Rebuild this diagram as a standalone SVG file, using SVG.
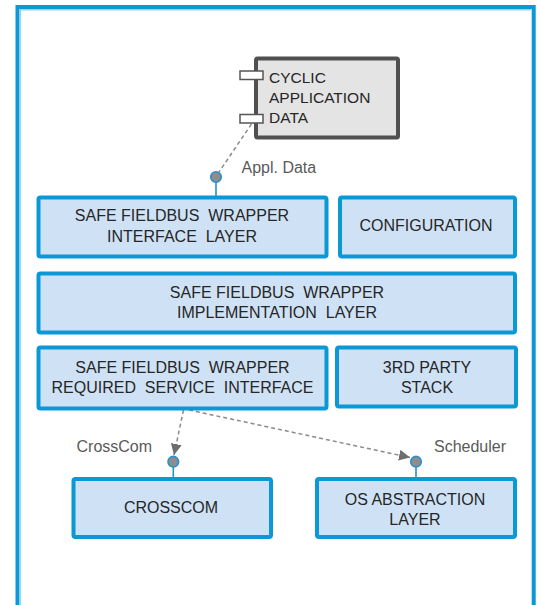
<svg xmlns="http://www.w3.org/2000/svg" width="541" height="605" viewBox="0 0 541 605">
<defs>
<style>
.box{fill:#cfe2f5;stroke:#0b98d6;stroke-width:4}
.t{font-family:"Liberation Sans",Arial,sans-serif;font-size:16px;fill:#262626;text-anchor:middle;white-space:pre}
.lbl{font-family:"Liberation Sans",Arial,sans-serif;font-size:16px;fill:#5a5a5a}
.dash{fill:none;stroke:#8a8a8a;stroke-width:1.5;stroke-dasharray:4 3}
.ball{fill:#8d8d8d;stroke:#2a8fcc;stroke-width:1.6}
.stem{stroke:#2a8fcc;stroke-width:1.6}
.port{fill:#fff;stroke:#555;stroke-width:1.5}
</style>
<marker id="arr" viewBox="0 0 10 10" refX="10" refY="5" markerWidth="11" markerHeight="11" markerUnits="userSpaceOnUse" orient="auto">
<path d="M0,0 L10,5 L0,10 Z" fill="#6e6e6e"/>
</marker>
</defs>
<g id="frame">
<path d="M17.5,605 V7 H533.7 V605" fill="none" stroke="#0b98d6" stroke-width="4"/>
<path d="M20.3,605 V9.7 H531.5" fill="none" stroke="#8fd4f2" stroke-width="1.5"/>
</g>
<g id="connectors">
<path class="dash" d="M251.5,124 L219,172"/>
<line class="stem" x1="216" y1="182" x2="216" y2="196"/>
<path class="dash" d="M183.5,410 L174,455" marker-end="url(#arr)"/>
<path class="dash" d="M189,410 L410,457.5" marker-end="url(#arr)"/>
<line class="stem" x1="173.3" y1="467" x2="173.3" y2="477"/>
<line class="stem" x1="416" y1="467" x2="416" y2="477"/>
<circle class="ball" cx="216" cy="177" r="5.3"/>
<circle class="ball" cx="173.3" cy="461.7" r="5.3"/>
<circle class="ball" cx="416" cy="461.7" r="5.3"/>
<text class="lbl" x="241.5" y="173.3">Appl. Data</text>
<text class="lbl" x="76.5" y="451.7">CrossCom</text>
<text class="lbl" x="434" y="451.7">Scheduler</text>
</g>
<g id="cyclic">
<rect x="256" y="58.5" width="142" height="79" rx="1.5" fill="#e4e4e4" stroke="#505050" stroke-width="4"/>
<rect class="port" x="240" y="71" width="23" height="8.5"/>
<rect class="port" x="240" y="114.5" width="23" height="8.5"/>
<text class="t" x="269" y="83" style="text-anchor:start;font-size:15.5px">CYCLIC</text>
<text class="t" x="269" y="103" style="text-anchor:start;font-size:15.5px">APPLICATION</text>
<text class="t" x="269" y="123" style="text-anchor:start;font-size:15.5px">DATA</text>
</g>
<g id="interface">
<rect class="box" x="38.5" y="197.5" width="288" height="59" rx="2"/>
<text class="t" x="182" y="221">SAFE FIELDBUS  WRAPPER</text>
<text class="t" x="182" y="241.7">INTERFACE  LAYER</text>
</g>
<g id="configuration">
<rect class="box" x="340" y="197.5" width="175" height="59" rx="2"/>
<text class="t" x="426" y="230.7">CONFIGURATION</text>
</g>
<g id="implementation">
<rect class="box" x="38.5" y="273.5" width="476.5" height="59" rx="2"/>
<text class="t" x="277" y="298.3">SAFE FIELDBUS  WRAPPER</text>
<text class="t" x="277" y="318.3">IMPLEMENTATION  LAYER</text>
</g>
<g id="required">
<rect class="box" x="38.5" y="347.5" width="288" height="61" rx="2"/>
<text class="t" x="182.5" y="372.7">SAFE FIELDBUS  WRAPPER</text>
<text class="t" x="182.5" y="393.3">REQUIRED  SERVICE  INTERFACE</text>
</g>
<g id="thirdparty">
<rect class="box" x="337" y="347.5" width="179" height="59" rx="2"/>
<text class="t" x="427" y="372.7">3RD PARTY</text>
<text class="t" x="427" y="393.3">STACK</text>
</g>
<g id="crosscom">
<rect class="box" x="73.5" y="479" width="197.5" height="58" rx="2"/>
<text class="t" x="171" y="512.7">CROSSCOM</text>
</g>
<g id="osal">
<rect class="box" x="317" y="479" width="198" height="58" rx="2"/>
<text class="t" x="415" y="505">OS ABSTRACTION</text>
<text class="t" x="415" y="525">LAYER</text>
</g>
</svg>
